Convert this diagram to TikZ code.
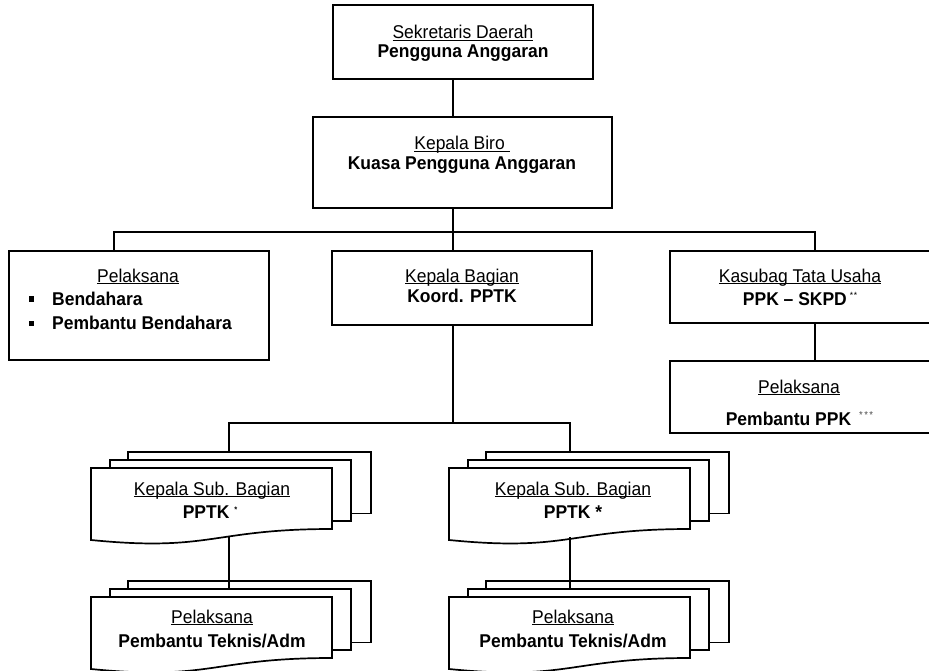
\documentclass[tikz,border=0pt]{standalone}
\usepackage{fontspec}
\setmainfont[FakeStretch=0.945]{Liberation Sans}
% underline drawn just below the baseline, crossing descenders
\newcommand\uln[1]{\leavevmode\setbox0\hbox{#1}\rlap{\rule[-2.4pt]{\wd0}{1.1pt}}\box0}
\begin{document}
\begin{tikzpicture}[x=1pt,y=-1pt,
  box/.style={draw,line width=1.7pt,fill=white,rectangle,inner sep=0pt,outer sep=0pt},
  doc/.style={draw,fill=white,line width=1.7pt,line join=miter},
  wire/.style={line width=1.7pt},
  txt/.style={inner sep=0pt,anchor=base,font=\fontsize{18.5}{20}\selectfont},
  txtb/.style={txt,font=\fontsize{18.5}{20}\selectfont\bfseries},
  txtbl/.style={txtb,anchor=base west},
  sq/.style={fill=black,inner sep=0pt,minimum size=5.5pt},
  multidoc/.pic={
    \draw[doc] (37,-16) rectangle (280,45.5);
    \draw[doc] (19,-8) rectangle (260,53);
    \draw[doc] (0,0) -- (241,0) -- (241,61) .. controls (120.5,61) and (120.5,84) .. (0,72) -- cycle;
    \coordinate (-back) at (0,-16);
    \coordinate (-mid) at (0,-8);
    \coordinate (-wave) at (0,69);
  }]
\useasboundingbox (0,0) rectangle (929,671);
\clip (0,0) rectangle (929,671);

% boxes
\node[box,minimum width=260pt,minimum height=74pt] (sekda) at (463,42) {};
\node[box,minimum width=299pt,minimum height=91pt] (biro) at (462.5,162.5) {};
\node[box,minimum width=260pt,minimum height=109pt] (pel) at (139,305.5) {};
\node[box,minimum width=260pt,minimum height=74pt] (kabag) at (462,288) {};
\node[box,minimum width=264pt,minimum height=72pt] (kasubag) at (802,287) {};
\node[box,minimum width=264pt,minimum height=72pt] (pppk) at (802,397) {};

% stacked documents
\pic (d1) at (91,468) {multidoc};
\pic (d2) at (449,468) {multidoc};
\pic (d3) at (91,597) {multidoc};
\pic (d4) at (449,597) {multidoc};

% connector anchors
\coordinate (trunk) at (453,0);
\coordinate (busL) at (114,232);
\coordinate (busR) at (815,232);
\coordinate (jL) at (229,423);
\coordinate (jR) at (570,423);

% connectors
\draw[wire] (sekda.south -| trunk) -- (biro.north -| trunk);
\draw[wire] (biro.south -| trunk) -- (kabag.north -| trunk);
\draw[wire] (pel.north -| busL) -- (busL) -- (busR) -- (kasubag.north -| busR);
\draw[wire] (kasubag.south -| busR) -- (pppk.north -| busR);
\draw[wire] (kabag.south -| trunk) -- (trunk |- jL);
\draw[wire] (jL |- d1-back) -- (jL) -- (jR) -- (jR |- d2-back);
\draw[wire] (jL |- d1-wave) -- (jL |- d3-mid);
\draw[wire] (jR |- d2-wave) -- (jR |- d4-mid);

% texts
\node[txt] (t1a) at (463,39) {\uln{Sekretaris Daerah}};
\node[txtb] (t1b) at (463,58) {Pengguna Anggaran};
\node[txt] (t2a) at (462,150) {\uln{Kepala Biro\ }};
\node[txtb] (t2b) at (462,170) {Kuasa Pengguna Anggaran};

\node[txt] (t3a) at (138,282) {\uln{Pelaksana}};
\node[sq] (b1) at (31.5,299) {};
\node[txtbl] (t3b) at (52,305) {Bendahara};
\node[sq] (b2) at (31.5,323.5) {};
\node[txtbl] (t3c) at (52,329) {Pembantu Bendahara};

\node[txt] (t4a) at (462,282) {\uln{Kepala Bagian}};
\node[txtb] (t4b) at (462,302) {Koord. PPTK};

\node[txt] (t5a) at (800,282) {\uln{Kasubag Tata Usaha}};
\node[txtb] (t5b) at (800,305) {PPK – SKPD\,\raisebox{7pt}{\fontsize{9}{9}\selectfont\mdseries *\kern0.5pt*}};
\node[txt] (t6a) at (799,393) {\uln{Pelaksana}};
\node[txtb] (t6b) at (799.5,425) {Pembantu PPK\hspace{8pt}\raisebox{7pt}{\fontsize{10}{10}\selectfont\mdseries\color{black!70}*\kern1.5pt*\kern1.5pt*}};

\node[txt] (t7a) at (212,495) {\uln{Kepala Sub. Bagian}};
\node[txtb] (t7b) at (210,518) {PPTK \raisebox{6pt}{\fontsize{8}{8}\selectfont *}};
\node[txt] (t8a) at (573,495) {\uln{Kepala Sub. Bagian}};
\node[txtb] (t8b) at (573,518) {PPTK *};

\node[txt] (t9a) at (212,623) {\uln{Pelaksana}};
\node[txtb] (t9b) at (212,647) {Pembantu Teknis/Adm};
\node[txt] (t10a) at (573,623) {\uln{Pelaksana}};
\node[txtb] (t10b) at (573,647) {Pembantu Teknis/Adm};
\end{tikzpicture}
\end{document}
